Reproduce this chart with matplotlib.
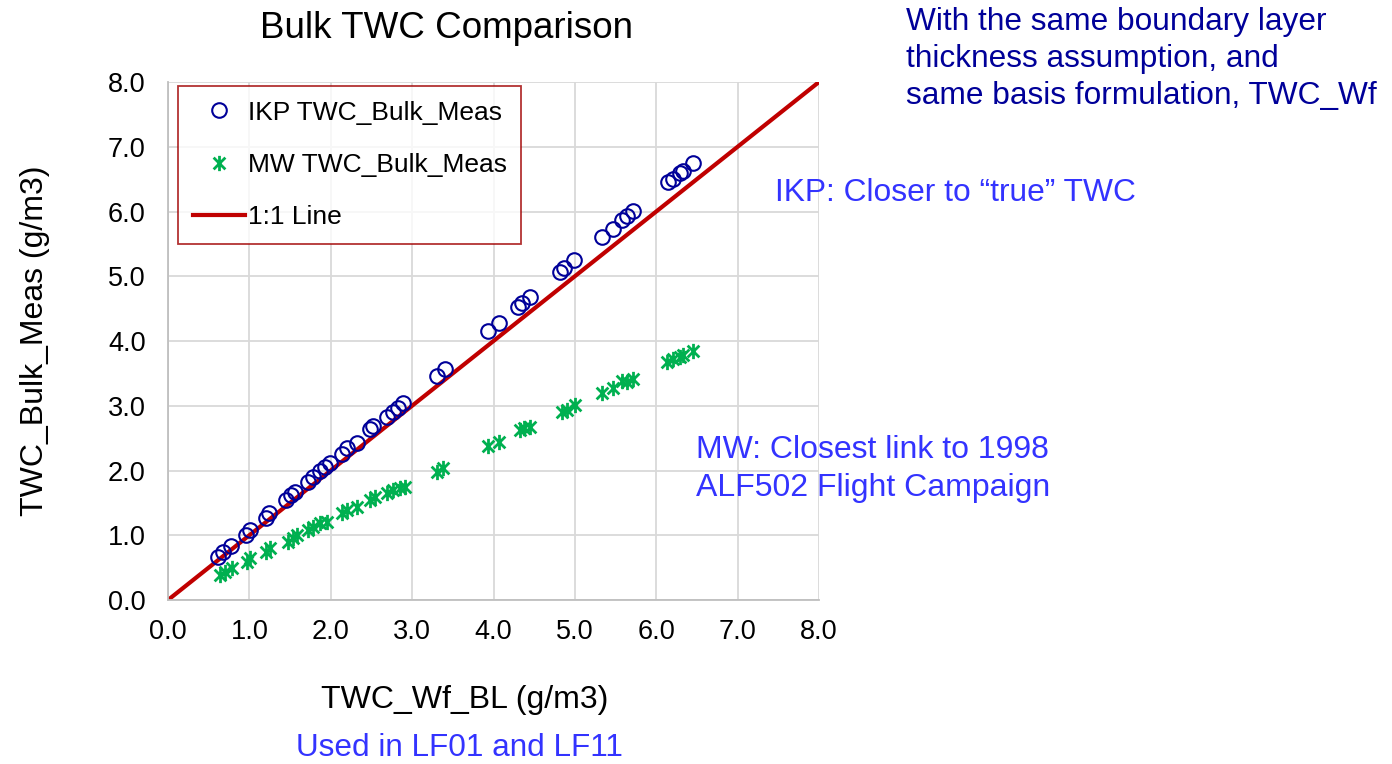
import numpy as np
import matplotlib
matplotlib.use("Agg")
import matplotlib.pyplot as plt
from matplotlib.path import Path

plt.rcParams['font.family'] = ['Liberation Sans', 'DejaVu Sans']

# IKP series (x = TWC_Wf_BL, y = TWC_Bulk_Meas)
ikp_x = [0.61, 0.68, 0.77, 0.96, 1.01, 1.20, 1.24, 1.45, 1.51, 1.56, 1.72, 1.78,
         1.87, 1.93, 1.99, 2.14, 2.20, 2.32, 2.48, 2.52, 2.69, 2.77, 2.83, 2.89,
         3.30, 3.40, 3.93, 4.07, 4.30, 4.35, 4.45, 4.82, 4.87, 4.99, 5.33, 5.47,
         5.58, 5.64, 5.72, 6.14, 6.20, 6.29, 6.33, 6.45]
ikp_y = [0.66, 0.74, 0.83, 1.00, 1.08, 1.26, 1.34, 1.54, 1.62, 1.67, 1.82, 1.90,
         2.00, 2.06, 2.11, 2.26, 2.34, 2.43, 2.64, 2.68, 2.83, 2.91, 2.96, 3.04,
         3.46, 3.57, 4.15, 4.28, 4.52, 4.58, 4.68, 5.07, 5.12, 5.25, 5.61, 5.73,
         5.87, 5.93, 6.01, 6.46, 6.50, 6.59, 6.63, 6.75]

# MW series
mw_x = [0.64, 0.70, 0.79, 0.97, 1.01, 1.21, 1.25, 1.47, 1.54, 1.58, 1.72, 1.78,
        1.87, 1.95, 2.14, 2.20, 2.32, 2.48, 2.54, 2.69, 2.77, 2.85, 2.91,
        3.30, 3.38, 3.93, 4.07, 4.32, 4.37, 4.45, 4.84, 4.90, 5.00, 5.33, 5.47,
        5.58, 5.64, 5.72, 6.13, 6.20, 6.29, 6.33, 6.45]
mw_y = [0.39, 0.43, 0.49, 0.59, 0.65, 0.74, 0.80, 0.90, 0.96, 1.00, 1.08, 1.13,
        1.19, 1.20, 1.34, 1.39, 1.44, 1.54, 1.59, 1.65, 1.70, 1.73, 1.75,
        1.98, 2.04, 2.38, 2.44, 2.63, 2.65, 2.67, 2.90, 2.94, 3.01, 3.20, 3.27,
        3.38, 3.36, 3.42, 3.68, 3.72, 3.76, 3.79, 3.85]

line_x = [0.0, 8.0]
line_y = [0.0, 8.0]

ticks = np.arange(0, 9, 1.0)
tick_labels = ["%.1f" % t for t in ticks]

# Excel style star: "x" with a vertical bar
star = Path([(-1, -1), (1, 1), (-1, 1), (1, -1), (0, -1.3), (0, 1.3)],
            [Path.MOVETO, Path.LINETO, Path.MOVETO, Path.LINETO, Path.MOVETO, Path.LINETO])

fig = plt.figure(figsize=(13.92, 7.64), dpi=100)
ax = fig.add_axes([168/1392, 1-600/764, (819-168)/1392, (600-82)/764])

ax.plot(ikp_x, ikp_y, linestyle='none', marker='o', ms=10.5, mfc='none',
        mec='#000099', mew=1.5, label='IKP TWC_Bulk_Meas', zorder=3)
ax.plot(mw_x, mw_y, linestyle='none', marker=star, ms=11, mfc='none',
        mec='#00B050', mew=2, label='MW TWC_Bulk_Meas', zorder=3)
ax.plot(line_x, line_y, color='#C00000', lw=3, label='1:1 Line', zorder=2)

ax.set_xlim(0, 8)
ax.set_ylim(0, 8)
ax.set_xticks(ticks)
ax.set_yticks(ticks)
ax.set_xticklabels(tick_labels, fontsize=19.5)
ax.set_yticklabels(tick_labels, fontsize=19.5)
ax.tick_params(axis='x', length=0, pad=14)
ax.tick_params(axis='y', length=0, pad=16)
ax.grid(True, color='#D9D9D9', lw=1.3)
ax.set_axisbelow(True)
for s in ['top', 'right']:
    ax.spines[s].set_visible(False)
for s in ['left', 'bottom']:
    ax.spines[s].set_color('#BFBFBF')
    ax.spines[s].set_linewidth(1.3)

leg = ax.legend(loc='upper left', bbox_to_anchor=(178/1392, 1-86/764),
                bbox_transform=fig.transFigure, fontsize=19, frameon=True,
                fancybox=False, handlelength=2.0, handletextpad=0.1,
                borderpad=0.55, labelspacing=1.07, borderaxespad=0)
leg.get_frame().set_edgecolor('#A00000')
leg.get_frame().set_linewidth(1.3)

fig.text(446/1392, 1-29/764, 'Bulk TWC Comparison', fontsize=26.5,
         ha='center', va='center')
fig.text(465/1392, 1-700/764, 'TWC_Wf_BL (g/m3)', fontsize=23,
         ha='center', va='center')
fig.text(35/1392, 1-341/764, 'TWC_Bulk_Meas (g/m3)', fontsize=23,
         ha='center', va='center', rotation=90)
fig.text(459/1392, 1-748/764, 'Used in LF01 and LF11', fontsize=22.7,
         ha='center', va='center', color='#3333FF')
fig.text(906/1392, 1-59/764,
         'With the same boundary layer\nthickness assumption, and\nsame basis formulation, TWC_Wf',
         fontsize=22.8, ha='left', va='center', color='#000099', linespacing=1.31)
fig.text(775/1392, 1-193/764, 'IKP: Closer to \u201ctrue\u201d TWC', fontsize=22.9,
         ha='left', va='center', color='#3333FF')
fig.text(696/1392, 1-469/764, 'MW: Closest link to 1998\nALF502 Flight Campaign',
         fontsize=23, ha='left', va='center', color='#3333FF', linespacing=1.37)

fig.savefig('out.png', dpi=100)
